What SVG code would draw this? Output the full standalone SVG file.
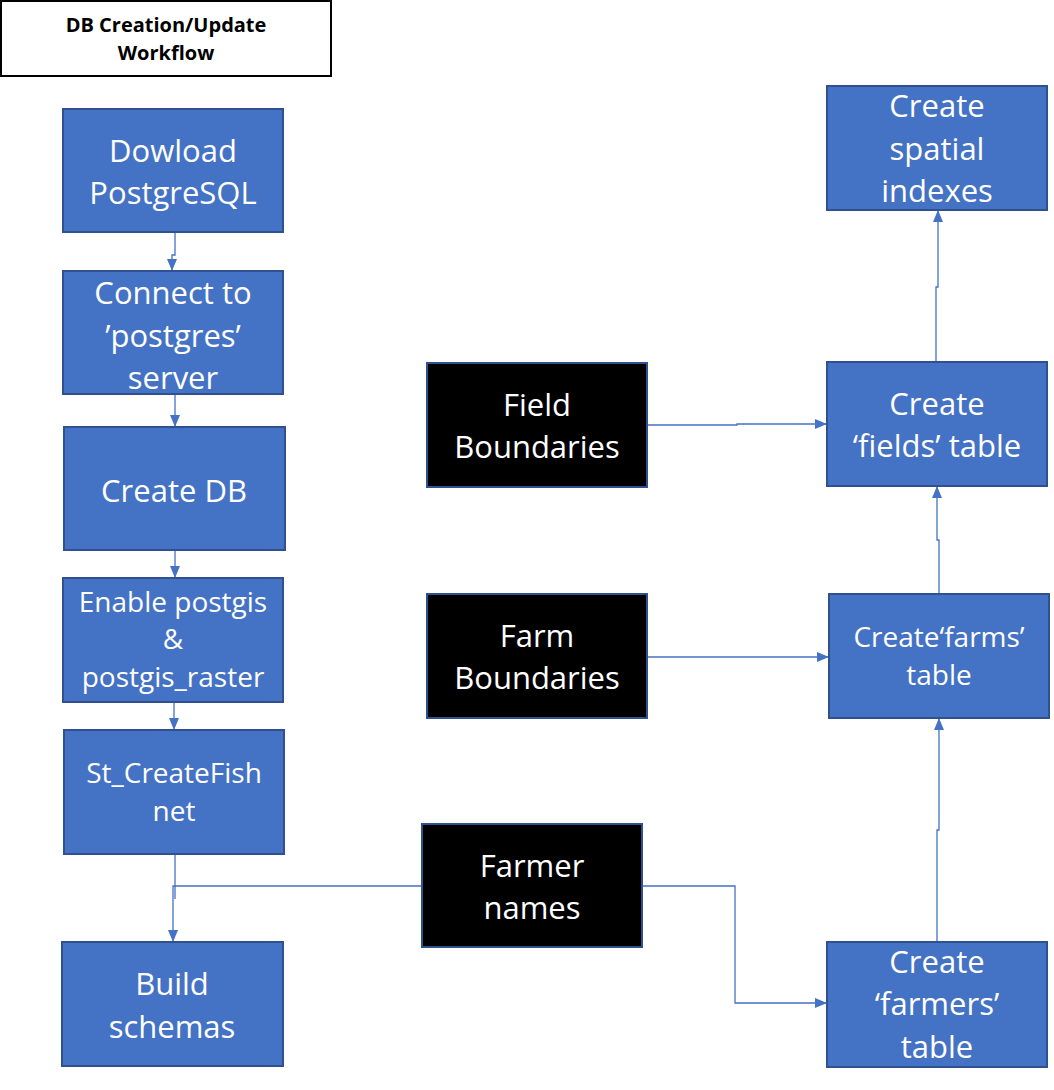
<svg xmlns="http://www.w3.org/2000/svg" width="1054" height="1090" viewBox="0 0 1054 1090">
<style>
.box{fill:#4472C4;stroke:#2F528F;stroke-width:2}
.src{fill:#000000;stroke:#2F528F;stroke-width:2}
.t{font-family:"Open Sans","Liberation Sans",sans-serif;fill:#ffffff;text-anchor:middle;font-size:31px}
.s{font-size:28px}
.title{font-family:"Open Sans","Liberation Sans",sans-serif;font-weight:bold;font-size:20px;fill:#000;text-anchor:middle}
.c{fill:none;stroke:#4472C4;stroke-width:1.3}
</style>
<defs>
<marker id="ah" markerUnits="userSpaceOnUse" markerWidth="12" markerHeight="12" viewBox="0 0 12 12" refX="12" refY="6" orient="auto">
<path d="M0,1 L12,6 L0,11 Z" fill="#4472C4"/>
</marker>
</defs>
<rect width="1054" height="1090" fill="#ffffff"/>
<g id="title">
<rect x="1" y="1" width="330" height="75" fill="#fff" stroke="#000" stroke-width="2"/>
<text class="title" x="166" y="32">DB Creation/Update</text>
<text class="title" x="166" y="60">Workflow</text>
</g>
<g id="connectors">
<path class="c" d="M175,232 V255 H172 V271" marker-end="url(#ah)"/>
<path class="c" d="M175,394 V427" marker-end="url(#ah)"/>
<path class="c" d="M175,550 V578" marker-end="url(#ah)"/>
<path class="c" d="M174,702 V730" marker-end="url(#ah)"/>
<path class="c" d="M175,854 V899"/>
<path class="c" d="M422,886 H173 V942" marker-end="url(#ah)"/>
<path class="c" d="M642,886 H735 V1003 H827" marker-end="url(#ah)"/>
<path class="c" d="M647,425 H737 V424 H827" marker-end="url(#ah)"/>
<path class="c" d="M647,657 H738 V657 H829" marker-end="url(#ah)"/>
<path class="c" d="M937,942 V830 H939 V718" marker-end="url(#ah)"/>
<path class="c" d="M939,594 V540 H937 V486" marker-end="url(#ah)"/>
<path class="c" d="M936,362 V287 H938 V210" marker-end="url(#ah)"/>
</g>
<g id="download">
<rect class="box" x="63" y="109" width="220" height="123"/>
<text class="t" x="173" y="162">Dowload</text>
<text class="t" x="173" y="204">PostgreSQL</text>
</g>
<g id="connect">
<rect class="box" x="63" y="271" width="220" height="123"/>
<text class="t" x="173" y="304">Connect to</text>
<text class="t" x="173" y="347">’postgres’</text>
<text class="t" x="173" y="389">server</text>
</g>
<g id="createdb">
<rect class="box" x="64" y="427" width="221" height="123"/>
<text class="t" x="174" y="502">Create DB</text>
</g>
<g id="enable">
<rect class="box" x="63" y="578" width="220" height="124"/>
<text class="t s" x="173" y="612">Enable postgis</text>
<text class="t s" x="173" y="649">&amp;</text>
<text class="t s" x="173" y="687">postgis_raster</text>
</g>
<g id="fishnet">
<rect class="box" x="64" y="730" width="220" height="124"/>
<text class="t s" x="174" y="783">St_CreateFish</text>
<text class="t s" x="174" y="821">net</text>
</g>
<g id="schemas">
<rect class="box" x="62" y="942" width="221" height="124"/>
<text class="t" x="172" y="995">Build</text>
<text class="t" x="172" y="1038">schemas</text>
</g>
<g id="farmernames">
<rect class="src" x="422" y="824" width="220" height="123"/>
<text class="t" x="532" y="877">Farmer</text>
<text class="t" x="532" y="919">names</text>
</g>
<g id="fieldboundaries">
<rect class="src" x="427" y="363" width="220" height="124"/>
<text class="t" x="537" y="416">Field</text>
<text class="t" x="537" y="458">Boundaries</text>
</g>
<g id="farmboundaries">
<rect class="src" x="427" y="594" width="220" height="124"/>
<text class="t" x="537" y="647">Farm</text>
<text class="t" x="537" y="689">Boundaries</text>
</g>
<g id="spatial">
<rect class="box" x="827" y="86" width="220" height="124"/>
<text class="t" x="937" y="117">Create</text>
<text class="t" x="937" y="160">spatial</text>
<text class="t" x="937" y="202">indexes</text>
</g>
<g id="fields">
<rect class="box" x="827" y="362" width="220" height="124"/>
<text class="t" x="937" y="415">Create</text>
<text class="t" x="937" y="457">‘fields’ table</text>
</g>
<g id="farms">
<rect class="box" x="829" y="594" width="220" height="124"/>
<text class="t s" x="939" y="647">Create‘farms’</text>
<text class="t s" x="939" y="685">table</text>
</g>
<g id="farmers">
<rect class="box" x="827" y="942" width="220" height="125"/>
<text class="t" x="937" y="973">Create</text>
<text class="t" x="937" y="1015">‘farmers’</text>
<text class="t" x="937" y="1058">table</text>
</g>
</svg>
